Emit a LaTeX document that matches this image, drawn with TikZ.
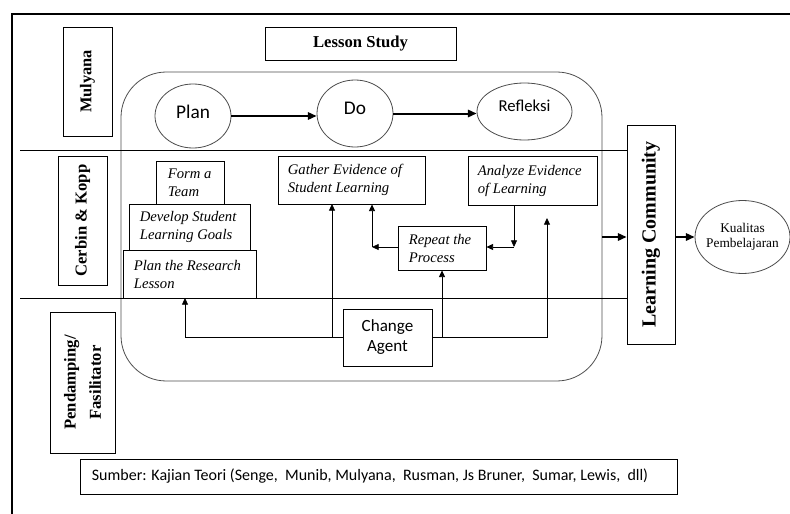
\documentclass[tikz,border=0pt]{standalone}
\usepackage{fontspec}
\setmainfont{Liberation Serif}
\newfontfamily\calfont{Carlito}
\usetikzlibrary{arrows.meta,shapes.geometric}
\begin{document}
\begin{tikzpicture}[x=0.75pt,y=-0.75pt,
  ln/.style={line width=0.6pt},
  bx/.style={draw, fill=white, rectangle, inner sep=0pt, line width=0.6pt},
  el/.style={draw=black!70, fill=white, ellipse, inner sep=0pt, line width=0.6pt},
  arr/.style={-{Triangle[length=5pt,width=4.5pt]}, line width=0.6pt},
  barr/.style={-{Triangle[length=6.5pt,width=5.5pt]}, line width=1.5pt},
  ittxt/.style={anchor=west, inner sep=0pt, align=left, font=\fontsize{11}{13.5}\selectfont\itshape},
  bftxt/.style={inner sep=0pt, align=center, font=\bfseries},
  sftxt/.style={inner sep=0pt, align=center, font=\calfont\fontsize{12.8}{15}\selectfont},
]
\useasboundingbox (0,0) rectangle (790,514);
% outer frame
\draw[line width=1.2pt] (790,14) -- (12,14) -- (12,514);
% lesson study loop
\node[draw=black!70, line width=0.6pt, rectangle, rounded corners=34pt, minimum width=360.75pt, minimum height=231.75pt, inner sep=0pt] (ls) at (361.5,226.5) {};
% learning community box
\node[bx, minimum width=36pt, minimum height=164.25pt] (lc) at (651,234.5) {};
\node[bftxt, rotate=90, font=\bfseries\fontsize{15}{18}\selectfont] (lct) at (lc) {Learning Community};
% row separators
\coordinate (h1) at (20,150);
\coordinate (h2) at (20,298);
\draw[ln] (h1) -- (h1 -| lc.west);
\draw[ln] (h2) -- (h2 -| lc.west);
% left column
\node[bx, minimum width=36.75pt, minimum height=81.75pt] (mul) at (87.5,81.5) {};
\node[bftxt, rotate=90, font=\bfseries\fontsize{12.3}{14}\selectfont] (mult) at (mul) {Mulyana};
\node[bx, minimum width=36.75pt, minimum height=96.75pt] (cer) at (82.5,220.5) {};
\node[bftxt, rotate=90, font=\bfseries\fontsize{12.5}{15}\selectfont] (cert) at (cer) {Cerbin \& Kopp};
\node[bx, minimum width=48.75pt, minimum height=105.75pt] (pen) at (82.5,382.5) {};
\node[bftxt, rotate=90, font=\bfseries\fontsize{12.5}{19}\selectfont] (pent) at (pen) {Pendamping/\\Fasilitator};
% title
\node[bx, minimum width=143.25pt, minimum height=24.75pt] (lsn) at (360.5,43.5) {};
\node[bftxt, font=\bfseries\fontsize{12.5}{15}\selectfont] (lsnt) at (lsn) {Lesson Study};
% source
\node[bx, minimum width=447.75pt, minimum height=26.25pt] (src) at (378.5,476.5) {};
\node[anchor=west, inner sep=0pt, font=\calfont\fontsize{12}{14}\selectfont] (srct) at ([xshift=9pt]src.west) {Sumber: Kajian Teori (Senge,\ \ Munib, Mulyana,\ \ Rusman, Js Bruner,\ \ Sumar, Lewis,\ \ dll)};
% plan do reflect
\node[el, minimum width=57pt, minimum height=48pt] (plan) at (193,116) {};
\node[sftxt, font=\calfont\fontsize{14.5}{16}\selectfont] (plant) at ([yshift=3pt]plan.center) {Plan};
\node[el, minimum width=57pt, minimum height=50.25pt] (do) at (355,113.5) {};
\node[sftxt, font=\calfont\fontsize{14.5}{16}\selectfont] (dot) at ([yshift=4pt]do.center) {Do};
\node[el, minimum width=71.25pt, minimum height=42.75pt] (refl) at (524.5,111.5) {};
\node[sftxt, font=\calfont\fontsize{12.5}{15}\selectfont] (reflt) at ([yshift=4pt]refl.center) {Refleksi};
\draw[barr] (plan.east) -- (plan.east -| do.west);
\draw[barr] (do.east) -- (do.east -| refl.west);
% Cerbin & Kopp steps
\node[bx, minimum width=51pt, minimum height=32.25pt] (team) at (190,182.5) {};
\node[ittxt] (teamt) at ([xshift=9pt]team.west) {Form a\\Team};
\node[bx, minimum width=90.75pt, minimum height=34.5pt] (dev) at (189.5,227) {};
\node[ittxt] (devt) at ([xshift=8.25pt]dev.west) {Develop Student\\Learning Goals};
\node[bx, minimum width=99.75pt, minimum height=36pt] (pres) at (189.5,274) {};
\node[ittxt] (prest) at ([xshift=8.25pt]pres.west) {Plan the Research\\Lesson};
\node[bx, minimum width=110.25pt, minimum height=36pt] (gath) at (351.5,180) {};
\node[ittxt] (gatht) at ([xshift=7.5pt]gath.west) {Gather Evidence of\\Student Learning};
\node[bx, minimum width=96.75pt, minimum height=36.75pt] (ana) at (532.5,180.5) {};
\node[ittxt] (anat) at ([xshift=7.5pt]ana.west) {Analyze Evidence\\of Learning};
\node[bx, minimum width=66pt, minimum height=33pt] (rep) at (442,248) {};
\node[ittxt] (rept) at ([xshift=8.25pt]rep.west) {Repeat the\\Process};
% change agent
\node[bx, minimum width=66.75pt, minimum height=42.75pt] (ca) at (387.5,337.5) {};
\node[sftxt] (cat) at (ca) {Change\\Agent};
% quality
\node[el, minimum width=71.25pt, minimum height=54.75pt] (kual) at (742.5,237) {};
\node[inner sep=0pt, align=center, font=\fontsize{10}{11.5}\selectfont] (kualt) at (kual) {Kualitas\\Pembelajaran};
\draw[barr] (ls.east |- kual.west) -- (lc.west |- kual.west);
\draw[barr] (lc.east |- kual.west) -- (kual.west);
% connectors
\coordinate (p1) at (185,298);
\coordinate (g1) at (332,204);
\coordinate (a1) at (547,218);
\coordinate (k1) at (514,247);
\coordinate (k2) at (372,247);
\draw[arr] (ca.west) -| (p1);
\draw[arr] (ca.west) -| (g1);
\draw[arr] (ca.east) -| (a1);
\draw[arr] (ca.east) -| (rep.south);
\draw[arr] (ana.south -| k1) -- (k1);
\draw[arr] (k1) -- (k1 -| rep.east);
\draw[arr] (k1 -| rep.west) -- (k2);
\draw[arr] (k2) -- (k2 |- gath.south);
\end{tikzpicture}
\end{document}
